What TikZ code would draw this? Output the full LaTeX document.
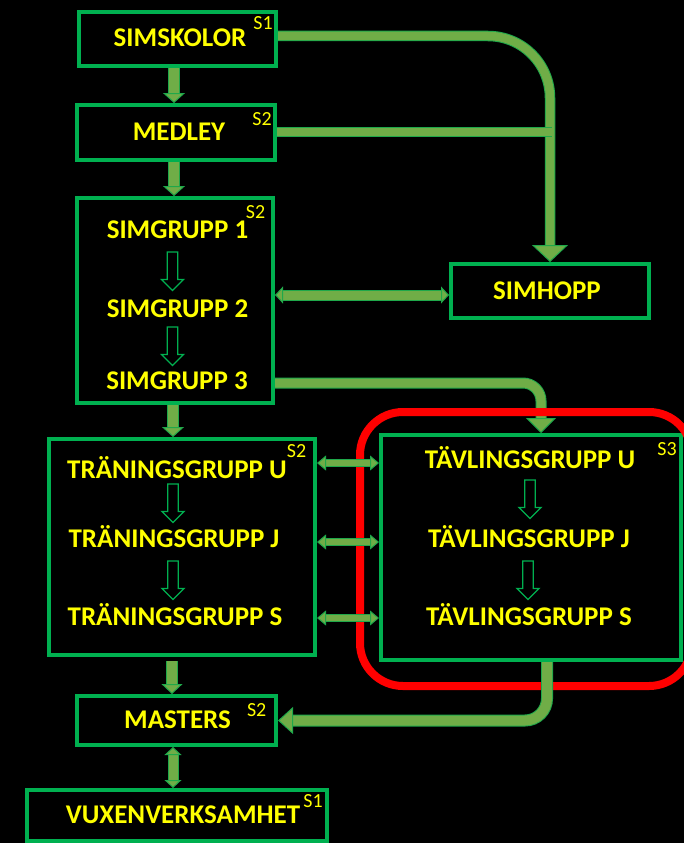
\documentclass[tikz,border=0pt]{standalone}
\usepackage{fontspec}
\setmainfont{Carlito}
\usetikzlibrary{arrows.meta,calc}
\definecolor{boxg}{HTML}{00B050}
\definecolor{fillg}{HTML}{70AD47}
\definecolor{edgeg}{HTML}{1FA84A}
\definecolor{txty}{HTML}{FFFF00}
\definecolor{redc}{HTML}{FF0000}
\newcommand\lblfont{\fontsize{27}{27}\selectfont\bfseries}
\newcommand\supfont{\fontsize{20}{20}\selectfont}
\begin{document}
\begin{tikzpicture}[x=1pt,y=-1pt,
  box/.style 2 args={draw=boxg,line width=4pt,fill=black,inner sep=0pt,minimum width=#1,minimum height=#2},
  lbl/.style={text=txty,font=\lblfont,anchor=base,inner sep=0pt},
  sup/.style={text=txty,font=\supfont,anchor=base,inner sep=0pt},
  conn/.style n args={3}{draw=fillg,line width=#1,
     -{Triangle[width=#2,length=#3,fill=fillg,color=edgeg,line width=1pt]},
     preaction={draw=edgeg,line width=#1+2pt,arrows=-,shorten >=#3-1pt}},
  conntwo/.style n args={3}{draw=fillg,line width=#1,
     {Triangle[width=#2,length=#3,fill=fillg,color=edgeg,line width=1pt]}-{Triangle[width=#2,length=#3,fill=fillg,color=edgeg,line width=1pt]},
     preaction={draw=edgeg,line width=#1+2pt,arrows=-,shorten >=#3-1pt,shorten <=#3-1pt}},
  connzero/.style={draw=fillg,line width=#1,preaction={draw=edgeg,line width=#1+2pt}},
  hollow/.pic={\draw[draw=boxg,line width=1.3pt,fill=black] (-5.3,0) -- (5.3,0) -- (5.3,27.5) -- (11,27.5) -- (0,38.5) -- (-11,27.5) -- (-5.3,27.5) -- cycle;}
]
\fill[black] (0,0) rectangle (684,843);
\useasboundingbox (0,0) rectangle (684,843);

% boxes
\node[box={197pt}{54pt}] (simskolor) at (177.5,39) {};
\node[box={198pt}{55pt}] (medley) at (176,132.5) {};
\node[box={196pt}{205pt}] (simgrupp) at (175,300.5) {};
\node[box={198pt}{54pt}] (simhopp) at (550,291) {};
\node[box={266pt}{216pt}] (traning) at (182,547) {};
\node[box={300pt}{225pt}] (tavling) at (531,547.5) {};
\node[box={199pt}{49pt}] (masters) at (176.5,720.5) {};
\node[box={300pt}{51pt}] (vuxen) at (177,815.5) {};

% labels
\node[lbl] (l1) at (180,47) {SIMSKOLOR};
\node[sup] (u1) at (263,30) {S1};
\node[lbl] (l2) at (179,140) {MEDLEY};
\node[sup] (u2) at (262,125) {S2};
\node[lbl] (l3) at (177.5,238) {SIMGRUPP 1};
\node[lbl] (l4) at (177.5,317) {SIMGRUPP 2};
\node[lbl] (l5) at (177,389) {SIMGRUPP 3};
\node[sup] (u3) at (255.5,218) {S2};
\node[lbl] (l6) at (547,299) {SIMHOPP};
\node[lbl] (l7) at (177,478) {TRÄNINGSGRUPP U};
\node[lbl] (l8) at (174,547) {TRÄNINGSGRUPP J};
\node[lbl] (l9) at (175,625) {TRÄNINGSGRUPP S};
\node[sup] (u4) at (296.5,457) {S2};
\node[lbl] (l10) at (530,468) {TÄVLINGSGRUPP U};
\node[lbl] (l11) at (529,547) {TÄVLINGSGRUPP J};
\node[lbl] (l12) at (529,625) {TÄVLINGSGRUPP S};
\node[sup] (u5) at (667,455) {S3};
\node[lbl] (l13) at (177.5,728) {MASTERS};
\node[sup] (u6) at (256.7,716) {S2};
\node[lbl] (l14) at (183,823) {VUXENVERKSAMHET};
\node[sup] (u7) at (313,807) {S1};

% hollow arrows inside boxes
\pic at (172.5,252) {hollow};
\pic at (172.5,327) {hollow};
\pic at (173,484) {hollow};
\pic at (173,561) {hollow};
\pic at (530,480) {hollow};
\pic at (528,561) {hollow};

% helper coordinates
\coordinate (xa) at (174,0);
\coordinate (xb) at (173,0);
\coordinate (xc) at (172,0);
\coordinate (y36) at (0,36);
\coordinate (y132) at (0,132);
\coordinate (y295) at (0,295);
\coordinate (y383) at (0,383);
\coordinate (y463) at (0,463);
\coordinate (y542) at (0,542);
\coordinate (y618) at (0,618);
\coordinate (mj) at (552,132);

% vertical connectors
\draw[conn={10pt}{22pt}{10pt}] (simskolor.south -| xa) -- (medley.north -| xa);
\draw[conn={10pt}{22pt}{10pt}] (medley.south -| xa) -- (simgrupp.north -| xa);
\draw[conn={10pt}{22pt}{10pt}] (simgrupp.south -| xb) -- (traning.north -| xb);
\draw[conn={10pt}{21pt}{10pt}] ($(traning.south -| xc)+(0,4)$) -- (masters.north -| xc);
\draw[conntwo={9pt}{17pt}{8pt}] (masters.south -| xb) -- (vuxen.north -| xb);

% simskolor / medley to simhopp
\draw[conn={8.5pt}{36pt}{17pt},rounded corners=62pt] (simskolor.east |- y36) -| (simhopp.north);
\draw[connzero=8.5pt] (medley.east |- y132) -- (mj);
\draw[conntwo={9pt}{17pt}{8pt}] (simgrupp.east |- y295) -- (simhopp.west |- y295);

% simgrupp 3 to tavling
\draw[conn={9pt}{30pt}{15pt},rounded corners=18pt] (simgrupp.east |- y383) -| ($(tavling.north)+(10,0)$);

% red frame
\draw[redc,line width=8pt,rounded corners=43pt] (360,412) rectangle (692,686);

% traning <-> tavling
\draw[conntwo={6.5pt}{15pt}{9pt}] (traning.east |- y463) -- (tavling.west |- y463);
\draw[conntwo={6.5pt}{15pt}{9pt}] (traning.east |- y542) -- (tavling.west |- y542);
\draw[conntwo={6.5pt}{15pt}{9pt}] (traning.east |- y618) -- (tavling.west |- y618);

% tavling to masters
\draw[conn={10pt}{27pt}{15pt},rounded corners=22pt] ($(tavling.south)+(16,0)$) |- (masters.east);
\end{tikzpicture}
\end{document}
